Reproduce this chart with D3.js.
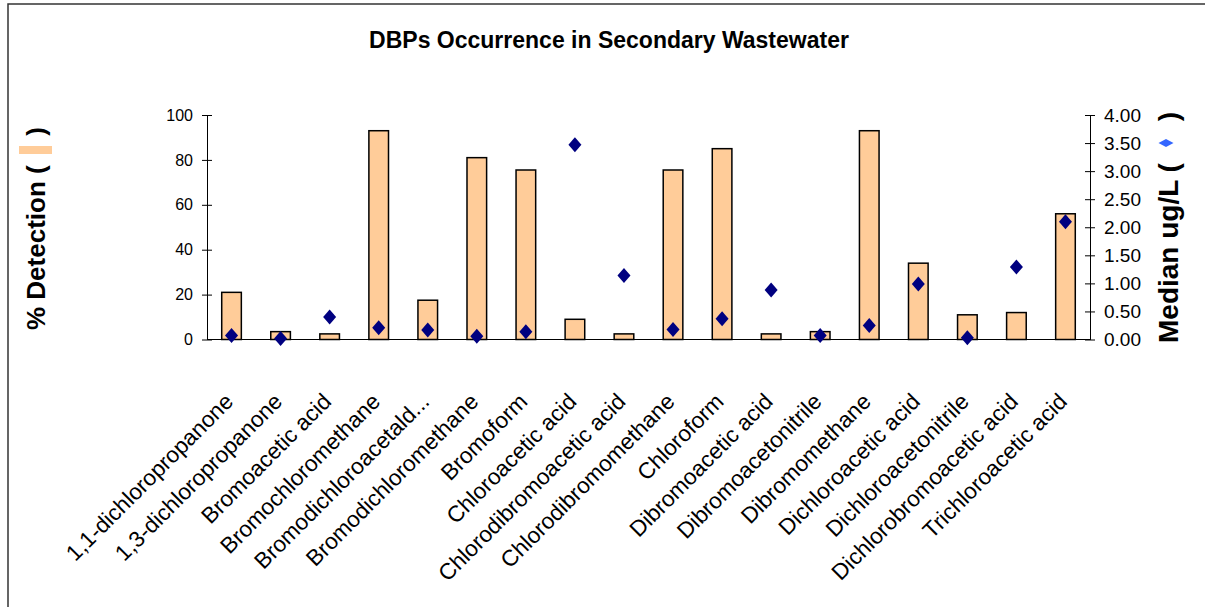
<!DOCTYPE html>
<html>
<head>
<meta charset="utf-8">
<script src="https://cdn.jsdelivr.net/npm/d3@7"></script>
<style>
  body { margin: 0; background: #fff; }
  svg { display: block; font-family: "Liberation Sans", Arial, sans-serif; }
</style>
</head>
<body>
<svg id="chart" width="1205" height="607"></svg>
<script>
var width = 1205;
var height = 607;

// data
var categories = [
    "1,1-dichloropropanone", "1,3-dichloropropanone", "Bromoacetic acid",
    "Bromochloromethane", "Bromodichloroacetald...", "Bromodichloromethane",
    "Bromoform", "Chloroacetic acid", "Chlorodibromoacetic acid",
    "Chlorodibromomethane", "Chloroform", "Dibromoacetic acid",
    "Dibromoacetonitrile", "Dibromomethane", "Dichloroacetic acid",
    "Dichloroacetonitrile", "Dichlorobromoacetic acid", "Trichloroacetic acid"
];
var detection = [21, 3.5, 2.5, 93, 17.5, 81, 75.5, 9, 2.5, 75.5, 85, 2.5, 3.5, 93, 34, 11, 12, 56];
var median = [0.07, 0.02, 0.40, 0.21, 0.17, 0.06, 0.14, 3.47, 1.14, 0.18, 0.37, 0.88, 0.07, 0.25, 0.99, 0.03, 1.29, 2.10];
var leftTicks = [0, 20, 40, 60, 80, 100];
var rightTicks = [0, 0.5, 1, 1.5, 2, 2.5, 3, 3.5, 4];

var plot = { left: 207, right: 1090, top: 115, bottom: 339.5 };

var svg = d3.select("svg#chart");

// frame (top and left edges only, like the reference)
svg.append("path")
    .attr("d", `M8,${height} L8,4 L${width + 5},4`)
    .attr("fill", "none")
    .attr("stroke", "#333")
    .attr("stroke-width", 1.5);

svg.append("text")
    .attr("x", 609)
    .attr("y", 48)
    .attr("text-anchor", "middle")
    .attr("font-size", 23)
    .attr("font-weight", "bold")
    .text("DBPs Occurrence in Secondary Wastewater");

var x = d3.scaleBand()
    .domain(categories)
    .range([plot.left, plot.right])
    .paddingInner(0.6)
    .paddingOuter(0.3);

var yLeft = d3.scaleLinear().domain([0, 100]).range([plot.bottom, plot.top]);
var yRight = d3.scaleLinear().domain([0, 4]).range([plot.bottom, plot.top]);

// bars
svg.append("g")
    .selectAll("rect")
    .data(detection)
    .enter().append("rect")
        .attr("x", (d, i) => x(categories[i]))
        .attr("y", d => yLeft(d))
        .attr("width", x.bandwidth())
        .attr("height", d => yLeft(0) - yLeft(d))
        .attr("fill", "#FFCC99")
        .attr("stroke", "#000")
        .attr("stroke-width", 1.5);

// x baseline
svg.append("line")
    .attr("x1", plot.left).attr("x2", plot.right)
    .attr("y1", plot.bottom).attr("y2", plot.bottom)
    .attr("stroke", "#000");

function diamond(w, h) {
    return `M0,${-h / 2} L${w / 2},0 L0,${h / 2} L${-w / 2},0 Z`;
}

// median markers
svg.append("g")
    .selectAll("path")
    .data(median)
    .enter().append("path")
        .attr("transform", (d, i) => `translate(${x(categories[i]) + x.bandwidth() / 2},${yRight(d)})`)
        .attr("d", diamond(13, 15))
        .attr("fill", "#000080");

// axes
var leftAxis = d3.axisLeft(yLeft).tickValues(leftTicks).tickSizeInner(5).tickSizeOuter(0).tickPadding(9);
var gl = svg.append("g").attr("transform", `translate(${plot.left},0)`).call(leftAxis);
gl.selectAll(".tick line").attr("x2", 5).attr("x1", -5);
gl.selectAll("text").attr("font-size", 16).attr("font-family", null).attr("fill", "#000");

var rightAxis = d3.axisRight(yRight).tickValues(rightTicks).tickFormat(d3.format(".2f")).tickSizeInner(5).tickSizeOuter(0).tickPadding(9);
var gr = svg.append("g").attr("transform", `translate(${plot.right},0)`).call(rightAxis);
gr.selectAll(".tick line").attr("x1", -5).attr("x2", 5);
gr.selectAll("text").attr("font-size", 19).attr("font-family", null).attr("fill", "#000");
svg.selectAll(".domain").attr("stroke", "#000");

// category labels
svg.append("g")
    .selectAll("text")
    .data(categories)
    .enter().append("text")
        .attr("transform", d => `translate(${x(d) + x.bandwidth() / 2 + 3},403) rotate(-45)`)
        .attr("text-anchor", "end")
        .attr("font-size", 22.5)
        .text(d => d);

// left axis title with bar swatch
svg.append("text")
    .attr("transform", "translate(45,330) rotate(-90)")
    .attr("font-size", 26)
    .attr("font-weight", "bold")
    .text("% Detection (");
svg.append("text")
    .attr("transform", "translate(45,127) rotate(-90)")
    .attr("text-anchor", "end")
    .attr("font-size", 26)
    .attr("font-weight", "bold")
    .text(")");
svg.append("rect")
    .attr("x", 19).attr("y", 146)
    .attr("width", 33).attr("height", 8)
    .attr("fill", "#FFCC99");

// right axis title with marker swatch
svg.append("text")
    .attr("transform", "translate(1178,343) rotate(-90)")
    .attr("font-size", 28)
    .attr("font-weight", "bold")
    .text("Median ug/L (");
svg.append("text")
    .attr("transform", "translate(1178,112) rotate(-90)")
    .attr("text-anchor", "end")
    .attr("font-size", 28)
    .attr("font-weight", "bold")
    .text(")");
svg.append("path")
    .attr("transform", "translate(1166,143)")
    .attr("d", diamond(15, 8))
    .attr("fill", "#3366FF");
</script>
</body>
</html>
